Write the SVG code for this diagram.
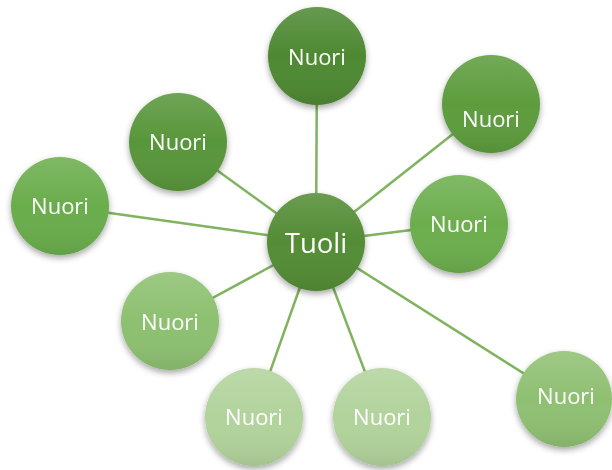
<svg xmlns="http://www.w3.org/2000/svg" width="612" height="470" viewBox="0 0 612 470">
<style>
.edge{stroke:#7fb35e;stroke-width:2.5;fill:none}
.shade{fill:url(#shade)}
.lbl{font-family:"Open Sans","Liberation Sans",sans-serif;fill:#ffffff;text-anchor:middle;dominant-baseline:central;font-size:22px}
.big{font-size:27.5px}
.node{filter:url(#ds)}
</style>
<defs>
<linearGradient id="shade" x1="0" y1="0" x2="0" y2="1">
<stop offset="0" stop-color="#ffffff" stop-opacity="0.14"/>
<stop offset="0.5" stop-color="#ffffff" stop-opacity="0"/>
<stop offset="1" stop-color="#000000" stop-opacity="0.08"/>
</linearGradient>
<filter id="ds" x="-30%" y="-30%" width="160%" height="170%">
<feDropShadow dx="0" dy="3" stdDeviation="3" flood-color="#000000" flood-opacity="0.35"/>
</filter>
</defs>
<g id="connectors">
<line class="edge" x1="316" y1="242" x2="317" y2="56"/>
<line class="edge" x1="316" y1="242" x2="491" y2="104"/>
<line class="edge" x1="316" y1="242" x2="178" y2="142"/>
<line class="edge" x1="316" y1="242" x2="60" y2="206"/>
<line class="edge" x1="316" y1="242" x2="459" y2="224"/>
<line class="edge" x1="316" y1="242" x2="170" y2="321"/>
<line class="edge" x1="316" y1="242" x2="254" y2="417"/>
<line class="edge" x1="316" y1="242" x2="382" y2="417"/>
<line class="edge" x1="316" y1="242" x2="564" y2="399"/>
</g>
<g id="n-top" class="node"><circle cx="317" cy="56" r="49" fill="#4e8932"/><circle cx="317" cy="56" r="49" class="shade"/><text class="lbl" x="317" y="56">Nuori</text></g>
<g id="n-topright" class="node"><circle cx="491" cy="104" r="49" fill="#5d9c3d"/><circle cx="491" cy="104" r="49" class="shade"/><text class="lbl" x="491" y="118">Nuori</text></g>
<g id="n-leftupper" class="node"><circle cx="178" cy="142" r="49" fill="#58963a"/><circle cx="178" cy="142" r="49" class="shade"/><text class="lbl" x="178" y="141">Nuori</text></g>
<g id="n-farleft" class="node"><circle cx="60" cy="206" r="49" fill="#6aad4c"/><circle cx="60" cy="206" r="49" class="shade"/><text class="lbl" x="60" y="205">Nuori</text></g>
<g id="n-right" class="node"><circle cx="459" cy="224" r="49" fill="#6cae4e"/><circle cx="459" cy="224" r="49" class="shade"/><text class="lbl" x="459" y="223">Nuori</text></g>
<g id="n-lowerleft" class="node"><circle cx="170" cy="321" r="49" fill="#8dc070"/><circle cx="170" cy="321" r="49" class="shade"/><text class="lbl" x="170" y="321">Nuori</text></g>
<g id="n-bottomleft" class="node"><circle cx="254" cy="417" r="49" fill="#b2d39c"/><circle cx="254" cy="417" r="49" class="shade"/><text class="lbl" x="254" y="416">Nuori</text></g>
<g id="n-bottommid" class="node"><circle cx="382" cy="417" r="49" fill="#b2d39c"/><circle cx="382" cy="417" r="49" class="shade"/><text class="lbl" x="382" y="416">Nuori</text></g>
<g id="n-bottomright" class="node"><circle cx="564" cy="399" r="48" fill="#8fc072"/><circle cx="564" cy="399" r="48" class="shade"/><text class="lbl" x="566" y="395">Nuori</text></g>
<g id="n-center" class="node"><circle cx="316" cy="242" r="49" fill="#538c35"/><circle cx="316" cy="242" r="49" class="shade"/><text class="lbl big" x="316" y="242">Tuoli</text></g>
</svg>
